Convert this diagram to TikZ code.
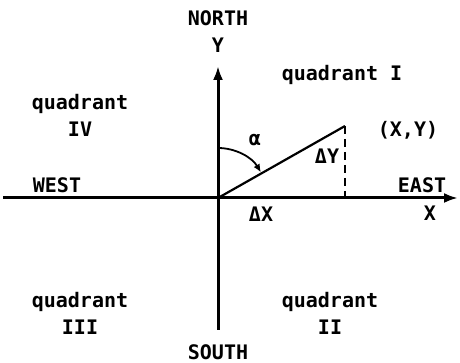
\documentclass[tikz,border=0pt]{standalone}
\usepackage{fontspec}
\setmainfont{DejaVu Sans Mono}
\usepackage{tikz}
\usetikzlibrary{arrows.meta,calc}
\tikzset{
  lbl/.style={font=\fontsize{10}{13.5}\selectfont\bfseries,align=center,inner sep=0pt},
  axis/.style={line width=1.5pt}
}

\begin{document}
\begin{tikzpicture}[x=0.5pt,y=0.5pt,>={Latex[length=7pt,width=5pt]}]
    \useasboundingbox (0,0) rectangle (460,363);
    \coordinate (O) at (218,165);
    \coordinate (N) at (218,297);
    \coordinate (S) at (218,33);
    \coordinate (W) at (3,165);
    \coordinate (E) at (458,165);
    \coordinate (P) at (345,237);
    \coordinate (F) at (345,165);
    \draw[axis,->] (S)--(N);
    \draw[axis,->] (W)--(E);
    \draw[line width=1.1pt] (O)--(P);
    \draw[line width=1.1pt,dash pattern=on 4pt off 2.5pt] (P)--(F);
    \draw[line width=0.9pt,-{Latex[length=4pt,width=3.5pt]}]
      ($(O)+(0,50)$) arc[start angle=90,end angle=31,radius=25pt];
    \node[lbl] (north) at (218,345) {NORTH};
    \node[lbl] (yax) at (218,318) {Y};
    \node[lbl] (south) at (218,11) {SOUTH};
    \node[lbl] (west) at (57,178) {WEST};
    \node[lbl] (east) at (422,178) {EAST};
    \node[lbl] (xax) at (430,150) {X};
    \node[lbl] (q1) at (342,288) {quadrant I};
    \node[lbl] (q4) at (80,248) {quadrant\\IV};
    \node[lbl] (q3) at (80,50) {quadrant\\III};
    \node[lbl] (q2) at (330,50) {quadrant\\II};
    \node[lbl] (pt) at (408,233) {(X,Y)};
    \node[lbl] (dy) at (327,207) {ΔY};
    \node[lbl] (dx) at (261,149) {ΔX};
    \node[lbl] (alpha) at (255,223) {α};
  \end{tikzpicture}
\end{document}
